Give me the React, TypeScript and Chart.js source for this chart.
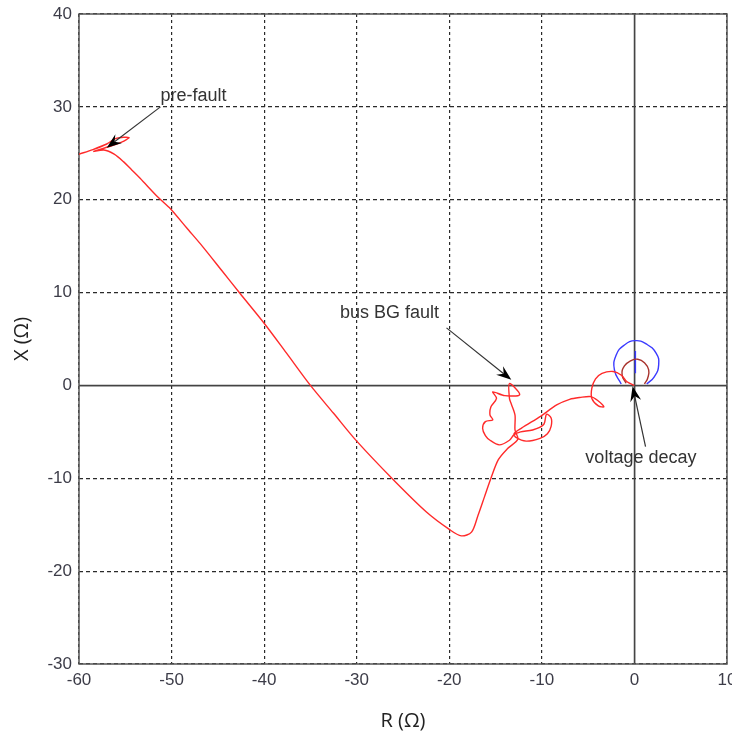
import React, { useEffect, useRef } from "react";
import { Chart, registerables } from "chart.js";

Chart.register(...registerables);

// ---- Data (R = resistance, X = reactance, in ohms) ----
const trajectoryR = [
  -60.0, -58.5, -57.0, -56.0, -54.6, -55.4, -56.8, -58.4, -57.3, -56.2, -55.2, -54.3,
  -53.4, -51.4, -50.1, -48.4, -46.6, -44.6, -42.6, -40.0, -37.6, -35.0, -32.5, -30.0,
  -26.1, -22.5, -20.0, -18.7, -17.6, -16.9, -16.2, -15.5, -14.7, -13.7, -12.6,
  -12.9, -12.9, -13.3, -13.5, -13.5, -12.4, -14.0, -15.3, -14.9, -15.5, -15.6,
  -15.3, -16.1, -16.4, -16.1, -15.6, -14.6, -13.5, -13.0, -12.3, -11.0, -9.8, -9.5,
  -9.0, -9.0, -9.4, -10.2, -11.7, -12.8, -13.0, -12.2, -10.1, -8.4, -7.0, -5.9,
  -4.7, -4.0, -3.3, -3.9, -4.6, -4.6, -4.2, -3.5, -2.3, -1.4, -0.8, 0.0,
];
const trajectoryX = [
  24.9, 25.4, 26.0, 26.6, 26.7, 26.2, 25.7, 25.2, 25.35, 24.9, 24.1, 23.2,
  22.3, 20.2, 19.0, 17.0, 14.9, 12.4, 9.9, 6.7, 3.5, 0.0, -3.0, -6.0,
  -10.1, -13.6, -15.5, -16.2, -15.8, -14.0, -12.0, -10.0, -8.0, -6.8, -5.8,
  -4.8, -3.2, -2.0, -1.4, 0.2, -1.0, -1.1, -0.7, -1.4, -2.3, -3.2,
  -3.7, -3.9, -4.6, -5.4, -5.9, -6.4, -5.9, -5.3, -5.0, -4.8, -4.2, -3.1,
  -3.5, -4.4, -5.2, -5.7, -6.0, -5.6, -5.2, -4.6, -3.3, -2.1, -1.5, -1.3,
  -1.2, -1.6, -2.3, -2.2, -1.4, -0.3, 0.7, 1.3, 1.5, 1.1, 0.4, 0.0,
];

const decayR = [-0.9, -1.33, -1.08, -0.36, 0.36, 1.08, 1.54, 1.43, 1.08];
const decayX = [0.24, 1.13, 2.1, 2.67, 2.82, 2.45, 1.67, 0.78, 0.16];

const zoneR = [-1.43, -2.16, -1.97, -1.08, 0.11, 1.26, 2.34, 2.62, 2.16, 1.33];
const zoneX = [0.16, 1.67, 3.28, 4.36, 4.82, 4.47, 3.47, 2.21, 0.95, 0.16];

const zoneAxisR = [0.1, 0.1];
const zoneAxisX = [3.7, 1.3];

const xTickValues = [-60, -50, -40, -30, -20, -10, 0, 10];
const yTickValues = [-30, -20, -10, 0, 10, 20, 30, 40];

const noteTexts = ["pre-fault", "bus BG fault", "voltage decay"];
const noteTextR = [-51.2, -31.8, -5.3];
const noteTextX = [31.2, 7.8, -7.8];
const arrowFromR = [-51.2, -20.3, 1.2];
const arrowFromX = [30.0, 6.2, -6.6];
const arrowToR = [-57.0, -13.3, -0.2];
const arrowToX = [25.6, 0.6, -0.1];

const toPoints = (r: number[], x: number[]) => r.map((v, i) => ({ x: v, y: x[i] }));

const overlayPlugin = {
  id: "overlay",
  beforeDatasetsDraw(chart: any) {
    const { ctx, chartArea, scales } = chart;
    const xs = scales.x;
    const ys = scales.y;
    ctx.save();
    ctx.strokeStyle = "#444";
    ctx.lineWidth = 1.5;
    ctx.setLineDash([]);
    const x0 = Math.round(xs.getPixelForValue(0)) + 0.5;
    const y0 = Math.round(ys.getPixelForValue(0)) + 0.5;
    ctx.beginPath();
    ctx.moveTo(x0, chartArea.top);
    ctx.lineTo(x0, chartArea.bottom);
    ctx.moveTo(chartArea.left, y0);
    ctx.lineTo(chartArea.right, y0);
    ctx.stroke();
    ctx.strokeStyle = "#555";
    ctx.lineWidth = 1.5;
    ctx.strokeRect(chartArea.left, chartArea.top, chartArea.right - chartArea.left, chartArea.bottom - chartArea.top);
    ctx.restore();
  },
  afterDatasetsDraw(chart: any) {
    const { ctx, scales } = chart;
    const xs = scales.x;
    const ys = scales.y;
    ctx.save();
    ctx.font = '18px "Liberation Sans", Arial, sans-serif';
    ctx.textBaseline = "middle";
    ctx.textAlign = "left";
    for (let i = 0; i < noteTexts.length; i++) {
      ctx.fillStyle = "#333";
      ctx.fillText(noteTexts[i], xs.getPixelForValue(noteTextR[i]), ys.getPixelForValue(noteTextX[i]));
      const ax = xs.getPixelForValue(arrowFromR[i]);
      const ay = ys.getPixelForValue(arrowFromX[i]);
      const tx = xs.getPixelForValue(arrowToR[i]);
      const ty = ys.getPixelForValue(arrowToX[i]);
      const ang = Math.atan2(ty - ay, tx - ax);
      const headLen = 15;
      const headHalf = 5.5;
      const cx = tx - Math.cos(ang) * headLen * 0.65;
      const cy = ty - Math.sin(ang) * headLen * 0.65;
      ctx.strokeStyle = "#333";
      ctx.lineWidth = 1.2;
      ctx.beginPath();
      ctx.moveTo(ax, ay);
      ctx.lineTo(cx, cy);
      ctx.stroke();
      ctx.fillStyle = "#000";
      const bx = tx - Math.cos(ang) * headLen;
      const by = ty - Math.sin(ang) * headLen;
      ctx.beginPath();
      ctx.moveTo(tx, ty);
      ctx.lineTo(bx - Math.sin(ang) * headHalf, by + Math.cos(ang) * headHalf);
      ctx.lineTo(cx, cy);
      ctx.lineTo(bx + Math.sin(ang) * headHalf, by - Math.cos(ang) * headHalf);
      ctx.closePath();
      ctx.fill();
    }
    ctx.restore();
  },
};

export default function App() {
  const canvasRef = useRef<HTMLCanvasElement | null>(null);

  useEffect(() => {
    document.body.style.margin = "0";
    const canvas = canvasRef.current;
    if (!canvas) return;
    const tickFont = { family: '"Liberation Sans", Arial, sans-serif', size: 17 };
    const chart = new Chart(canvas, {
      type: "scatter",
      data: {
        datasets: [
          {
            label: "trajectory",
            data: toPoints(trajectoryR, trajectoryX),
            showLine: true,
            borderColor: "#ff2a2a",
            borderWidth: 1.4,
            pointRadius: 0,
            tension: 0.3,
            fill: false,
          },
          {
            label: "decay",
            data: toPoints(decayR, decayX),
            showLine: true,
            borderColor: "#a8322c",
            borderWidth: 1.4,
            pointRadius: 0,
            tension: 0.5,
            fill: false,
          },
          {
            label: "zone",
            data: toPoints(zoneR, zoneX),
            showLine: true,
            borderColor: "#3a3aff",
            borderWidth: 1.4,
            pointRadius: 0,
            tension: 0.5,
            fill: false,
          },
          {
            label: "zone axis",
            data: toPoints(zoneAxisR, zoneAxisX),
            showLine: true,
            borderColor: "#3a3aff",
            borderWidth: 1.5,
            pointRadius: 0,
            fill: false,
          },
        ],
      },
      options: {
        animation: false,
        responsive: false,
        maintainAspectRatio: false,
        layout: { padding: { top: 14, right: 5, bottom: 0, left: 0 } },
        plugins: { legend: { display: false }, tooltip: { enabled: false } },
        scales: {
          x: {
            type: "linear",
            position: "bottom",
            min: -60,
            max: 10,
            afterBuildTicks: (s: any) => {
              s.ticks = xTickValues.map((v) => ({ value: v }));
            },
            ticks: { color: "#3c3c48", font: tickFont, padding: 6, maxRotation: 0, autoSkip: false },
            grid: { color: "#2a2a2a", lineWidth: 1.2, drawTicks: false },
            border: {
              display: false,
              dash: (c: any) => (c.type === "tick" && c.tick && c.tick.value === 0 ? [] : [3, 3]),
            },
            title: {
              display: true,
              text: "R (Ω)",
              color: "#222",
              font: { family: '"Open Sans", sans-serif', size: 20 },
              padding: { top: 0, bottom: 4 },
            },
            afterFit: (s: any) => {
              s.height = 73;
              s.paddingLeft = 0;
              s.paddingRight = 0;
            },
          } as any,
          y: {
            type: "linear",
            position: "left",
            min: -30,
            max: 40,
            afterBuildTicks: (s: any) => {
              s.ticks = yTickValues.map((v) => ({ value: v }));
            },
            ticks: { color: "#3c3c48", font: tickFont, padding: 7, autoSkip: false },
            grid: { color: "#2a2a2a", lineWidth: 1.2, drawTicks: false },
            border: {
              display: false,
              dash: (c: any) => (c.type === "tick" && c.tick && c.tick.value === 0 ? [] : [4, 3]),
            },
            title: {
              display: true,
              text: "X (Ω)",
              color: "#222",
              font: { family: '"Open Sans", sans-serif', size: 20 },
              padding: { top: 10, bottom: 0 },
            },
            afterFit: (s: any) => {
              s.width = 79;
              s.paddingTop = 0;
              s.paddingBottom = 0;
            },
          } as any,
        },
      },
      plugins: [overlayPlugin],
    });
    return () => chart.destroy();
  }, []);

  return (
    <div style={{ width: 732, height: 737, background: "#fff" }}>
      <canvas ref={canvasRef} width={732} height={737} style={{ display: "block" }} />
    </div>
  );
}
